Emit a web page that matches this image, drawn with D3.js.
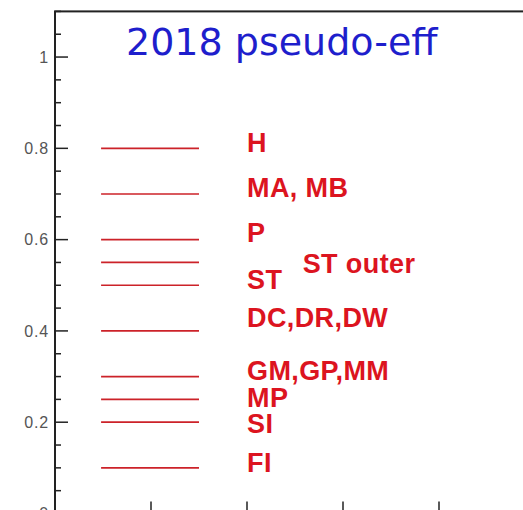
<!DOCTYPE html>
<html>
<head>
<meta charset="utf-8">
<script src="https://cdn.jsdelivr.net/npm/d3@7"></script>
<style>
  html, body { margin: 0; padding: 0; background: #fff; overflow: hidden; }
</style>
</head>
<body>
<div id="chart"></div>
<script>
"use strict";

// efficiency levels (one red segment each)
const effValues = [0.8, 0.7, 0.6, 0.55, 0.5, 0.4, 0.3, 0.25, 0.2, 0.1];
const segX = [0.48, 1.5];

// detector labels and where they sit (data coords)
const labelNames = ["H", "MA, MB", "P", "ST outer", "ST", "DC,DR,DW", "GM,GP,MM", "MP", "SI", "FI"];
const labelX = [2, 2, 2, 2.58, 2, 2, 2, 2, 2, 2];
const labelY = [0.793, 0.693, 0.595, 0.527, 0.492, 0.408, 0.292, 0.234, 0.176, 0.092];

const yTicks = [0, 0.2, 0.4, 0.6, 0.8, 1];
const yTickLabels = ["0", "0.2", "0.4", "0.6", "0.8", "1"];
const xTicks = [1, 2, 3, 4];

const title = "2018 pseudo-eff";

const width = 523, height = 510;

const svg = d3.select("#chart")
    .append("svg")
    .attr("width", width)
    .attr("height", height);

const x = d3.scaleLinear().domain([0, 5]).range([55, 535]);
const y = d3.scaleLinear().domain([0, 1.1]).range([513.5, 11.4]);

// frame
svg.append("rect")
    .attr("x", x(0))
    .attr("y", y(1.1))
    .attr("width", x(5) - x(0))
    .attr("height", y(0) - y(1.1))
    .attr("fill", "none")
    .attr("stroke", "#222")
    .attr("stroke-width", 2);

// left axis: major + minor ticks pointing inward
const minorY = d3.range(0, 1.1001, 0.05).filter(v => !yTicks.some(t => Math.abs(t - v) < 1e-6));
svg.append("g")
    .selectAll("line")
    .data(minorY)
    .join("line")
    .attr("x1", x(0)).attr("x2", x(0) + 6)
    .attr("y1", d => y(d)).attr("y2", d => y(d))
    .attr("stroke", "#222").attr("stroke-width", 1.5);

svg.append("g")
    .selectAll("line")
    .data(yTicks)
    .join("line")
    .attr("x1", x(0)).attr("x2", x(0) + 13)
    .attr("y1", d => y(d)).attr("y2", d => y(d))
    .attr("stroke", "#222").attr("stroke-width", 1.5);

svg.append("g")
    .selectAll("text")
    .data(yTicks)
    .join("text")
    .attr("x", x(0) - 6)
    .attr("y", d => y(d))
    .attr("dy", "0.35em")
    .attr("text-anchor", "end")
    .attr("font-family", "Liberation Sans, Arial, sans-serif")
    .attr("font-size", 16)
    .attr("letter-spacing", 0.8)
    .attr("fill", "#555")
    .text((d, i) => yTickLabels[i]);

// bottom axis ticks
svg.append("g")
    .selectAll("line")
    .data(xTicks)
    .join("line")
    .attr("x1", d => x(d)).attr("x2", d => x(d))
    .attr("y1", y(0)).attr("y2", y(0) - 12)
    .attr("stroke", "#222").attr("stroke-width", 1.5);

// efficiency segments
svg.append("g")
    .selectAll("line")
    .data(effValues)
    .join("line")
    .attr("x1", x(segX[0])).attr("x2", x(segX[1]))
    .attr("y1", d => y(d)).attr("y2", d => y(d))
    .attr("stroke", "#cc2229")
    .attr("stroke-width", 1.7);

// labels
svg.append("g")
    .selectAll("text")
    .data(labelNames)
    .join("text")
    .attr("x", (d, i) => x(labelX[i]))
    .attr("y", (d, i) => y(labelY[i]))
    .attr("font-family", "Liberation Sans, Arial, sans-serif")
    .attr("font-weight", "bold")
    .attr("font-size", 27)
    .attr("letter-spacing", 0.4)
    .attr("fill", "#dc1420")
    .text(d => d);

// title
svg.append("text")
    .attr("x", 126)
    .attr("y", 55)
    .attr("font-family", "DejaVu Sans, sans-serif")
    .attr("font-size", 38)
    .attr("fill", "#1e1ecc")
    .text(title);
</script>
</body>
</html>
